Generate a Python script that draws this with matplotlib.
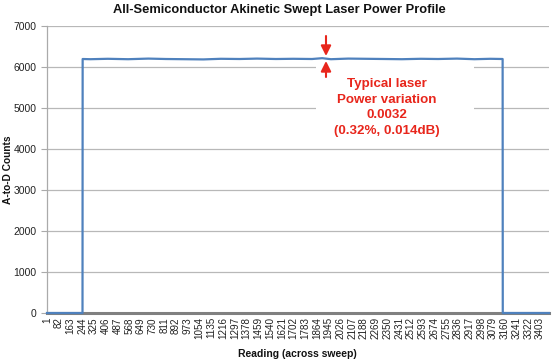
import matplotlib
matplotlib.use("Agg")
import matplotlib.pyplot as plt
from matplotlib.patches import Rectangle, FancyArrowPatch

plt.rcParams['font.family'] = ['Liberation Sans', 'DejaVu Sans']

# Data (readings along the sweep, A-to-D counts)
readings = [1, 246, 247, 300, 420, 560, 700, 820, 950, 1080, 1200, 1330, 1450,
            1580, 1700, 1830, 1900, 1960, 2080, 2200, 2330, 2450, 2580, 2700,
            2830, 2950, 3060, 3145, 3146, 3465]
counts = [0, 0, 6195, 6190, 6200, 6190, 6205, 6195, 6190, 6185, 6200, 6195, 6205,
          6195, 6200, 6195, 6215, 6190, 6205, 6200, 6195, 6190, 6200, 6195,
          6205, 6190, 6200, 6195, 0, 0]
tick_labels = list(range(1, 3404, 81))
y_ticks = [0, 1000, 2000, 3000, 4000, 5000, 6000, 7000]

W, H = 552, 362
fig = plt.figure(figsize=(W / 100, H / 100), dpi=100)
ax = fig.add_axes([47 / W, 1 - 313 / H, (549 - 47) / W, (313 - 26) / H])

ax.set_xlim(1, 3465)
ax.set_ylim(0, 7000)
ax.set_yticks(y_ticks)
ax.set_xticks(tick_labels)
ax.set_xticklabels([str(t) for t in tick_labels], rotation=90, fontsize=7.1, color='#222222')
ax.tick_params(axis='y', labelsize=7.5, colors='#222222', length=4, color='#aaaaaa', width=0.8)
ax.tick_params(axis='x', length=0, pad=3)
ax.grid(axis='y', color='#b8b8b8', linewidth=0.9)
ax.set_axisbelow(True)
for s in ['top', 'right']:
    ax.spines[s].set_visible(False)
ax.spines['left'].set_color('#aaaaaa')
ax.spines['left'].set_linewidth(0.9)
ax.spines['bottom'].set_color('#808080')
ax.spines['bottom'].set_linewidth(2.2)
ax.spines['bottom'].set_zorder(1)

ax.plot(readings, counts, color='#4f81bd', linewidth=1.6, zorder=3, clip_on=False)

# white box behind annotation text
fig.add_artist(Rectangle((316 / W, 1 - 145 / H), (474 - 316) / W, (145 - 62) / H,
                         transform=fig.transFigure, facecolor='white', edgecolor='none', zorder=2))

red = '#e8261c'
fig.text(387 / W, 1 - 107.5 / H, "Typical laser\nPower variation\n0.0032\n(0.32%, 0.014dB)",
         ha='center', va='center', color=red, fontsize=9.6, fontweight='bold',
         linespacing=1.42, zorder=5)


def arrow(y0, y1):
    fig.add_artist(FancyArrowPatch((326 / W, 1 - y0 / H), (326 / W, 1 - y1 / H),
                                   transform=fig.transFigure,
                                   arrowstyle='-|>,head_width=3,head_length=6',
                                   color=red, lw=1.5, shrinkA=0, shrinkB=0, zorder=6))


arrow(36, 56)
arrow(77, 61)

fig.text(279 / W, 1 - 10 / H, "All-Semiconductor Akinetic Swept Laser Power Profile",
         ha='center', va='center', fontsize=9.3, fontweight='bold', color='#111111')
fig.text(8 / W, 1 - 170 / H, "A-to-D Counts", rotation=90, ha='center', va='center',
         fontsize=7.3, fontweight='bold', color='#111111')
fig.text(297 / W, 1 - 354 / H, "Reading (across sweep)", ha='center', va='center',
         fontsize=7.5, fontweight='bold', color='#111111')

fig.savefig('out.png', dpi=100, facecolor='white')
